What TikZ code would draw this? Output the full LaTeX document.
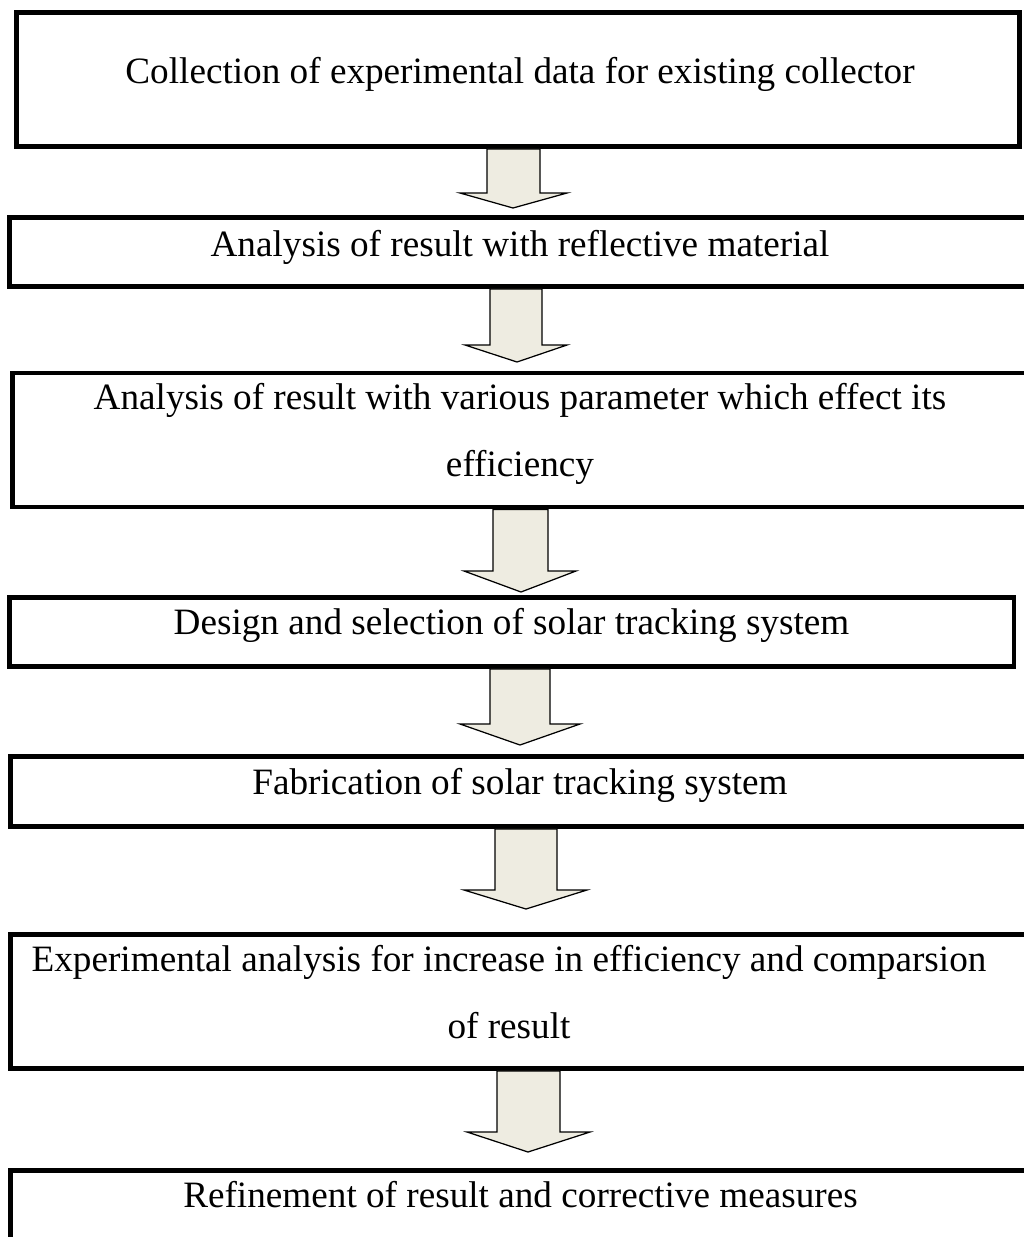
\documentclass[tikz,border=0pt]{standalone}
\usepackage{fontspec}
\setmainfont{Liberation Serif}
\usepackage{xcolor}
\usetikzlibrary{fit}
\definecolor{arrowfill}{HTML}{EEECE1}

\begin{document}
\begin{tikzpicture}[x=0.3226pt,y=-0.3226pt,
  box/.style={draw=black,line width=1.6pt,inner sep=0pt,rectangle},
  txt/.style={anchor=base,inner sep=0pt,align=center,font=\fontsize{12pt}{21.3pt}\selectfont},
  flowarrow/.style={draw=black,line width=0.4pt,fill=arrowfill,line join=miter}]
\useasboundingbox (0,0) rectangle (1024,1237);
\clip (0,0) rectangle (1024,1237);
% boxes
\node[box,fit={(16.5,12.5) (1019.5,146.5)}] (b1) {};
\node[box,fit={(9.5,217.5) (1040,286.5)}] (b2) {};
\node[box,fit={(12.5,373) (1040,507)}] (b3) {};
\node[box,fit={(9.5,597.5) (1014,666.5)}] (b4) {};
\node[box,fit={(10.5,756.5) (1040,826.5)}] (b5) {};
\node[box,fit={(10.5,934.5) (1040,1068.5)}] (b6) {};
\node[box,fit={(10.5,1170.5) (1040,1260)}] (b7) {};
% texts (base = last line)
\node[txt] (t1) at (520,83) {Collection of experimental data for existing collector};
\node[txt] (t2) at (520,256) {Analysis of result with reflective material};
\node[txt] (t3) at (520,476) {Analysis of result with various parameter which effect its\\efficiency};
\node[txt] (t4) at (511.5,634) {Design and selection of solar tracking system};
\node[txt] (t5) at (520,794) {Fabrication of solar tracking system};
\node[txt] (t6) at (509,1038) {Experimental analysis for increase in efficiency and comparsion\\of result};
\node[txt] (t7) at (520.5,1207) {Refinement of result and corrective measures};
% arrows
\draw[flowarrow] (487,0 |- b1.south) -- (487,193) -- (460,193) -- (513,208) -- (567,193) -- (540,193) -- (540,0 |- b1.south) -- cycle;
\draw[flowarrow] (490,0 |- b2.south) -- (490,345) -- (465,345) -- (517,362) -- (567,345) -- (542,345) -- (542,0 |- b2.south) -- cycle;
\draw[flowarrow] (493,0 |- b3.south) -- (493,571) -- (464,571) -- (521,592) -- (576,571) -- (548,571) -- (548,0 |- b3.south) -- cycle;
\draw[flowarrow] (490,0 |- b4.south) -- (490,724) -- (460,724) -- (520,745) -- (580,724) -- (550,724) -- (550,0 |- b4.south) -- cycle;
\draw[flowarrow] (495,0 |- b5.south) -- (495,890) -- (464,890) -- (526,909) -- (587,890) -- (557,890) -- (557,0 |- b5.south) -- cycle;
\draw[flowarrow] (497,0 |- b6.south) -- (497,1132) -- (467,1132) -- (528,1152) -- (590,1132) -- (560,1132) -- (560,0 |- b6.south) -- cycle;
\end{tikzpicture}
\end{document}
